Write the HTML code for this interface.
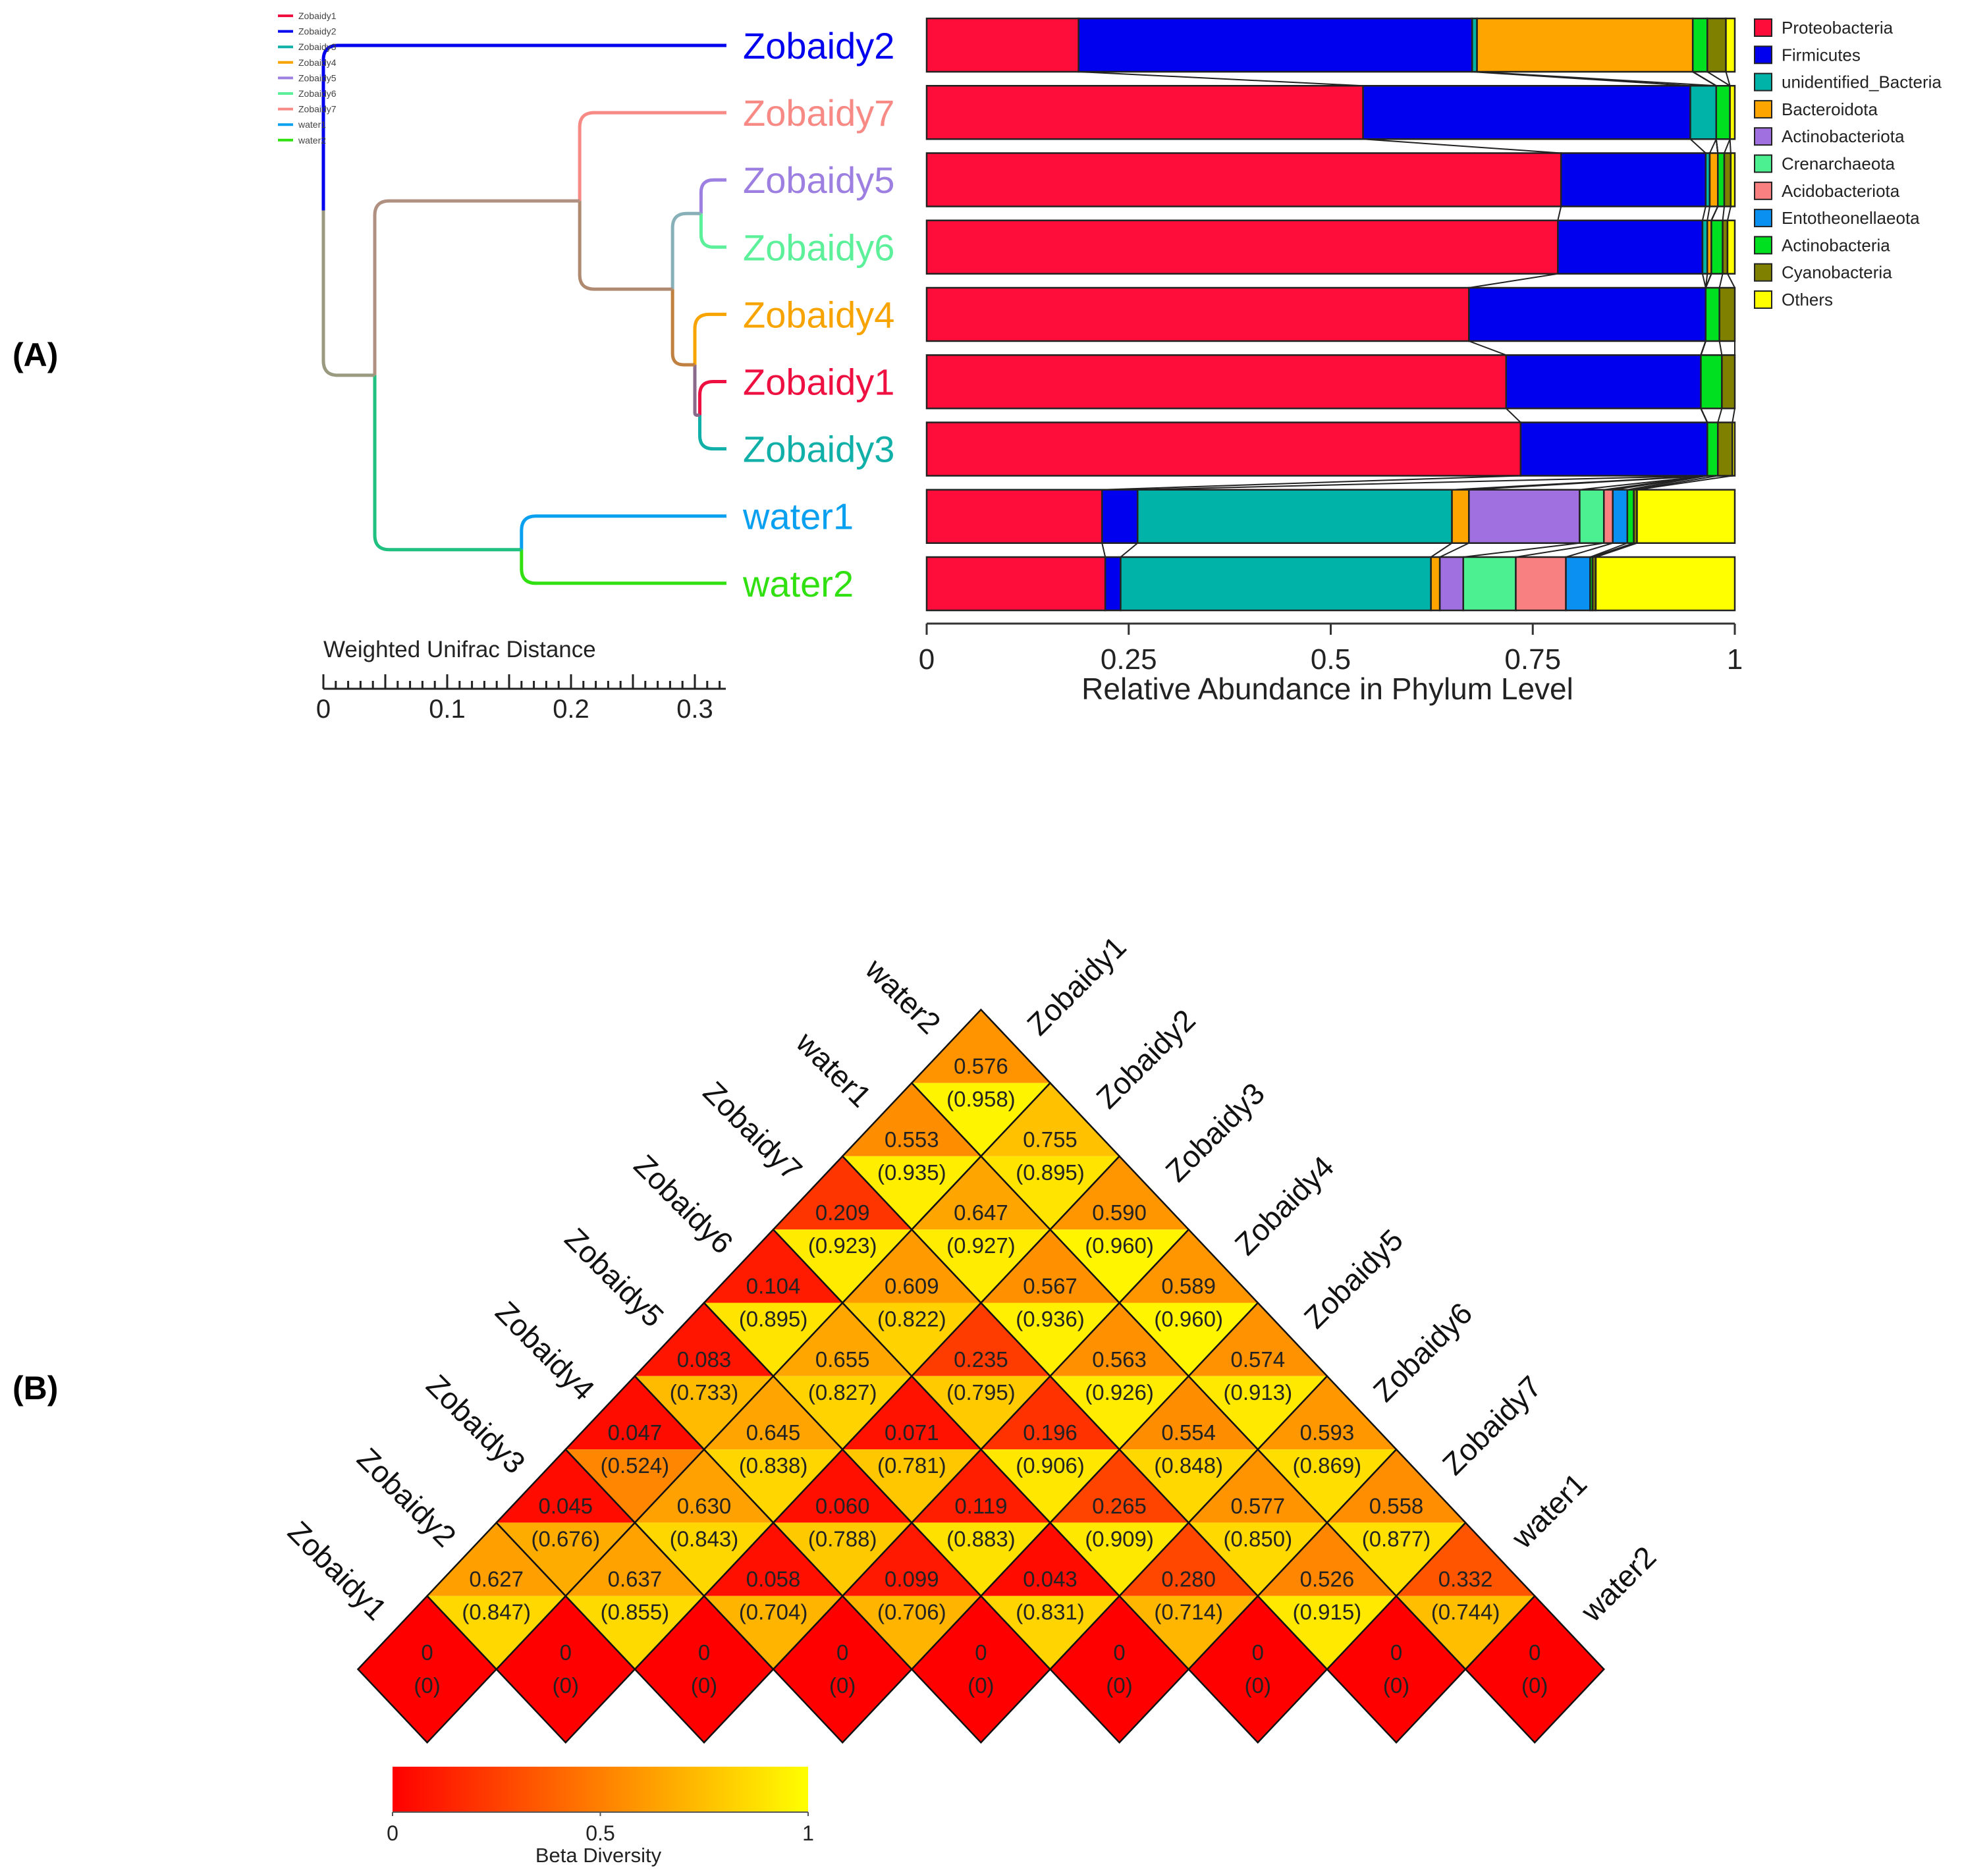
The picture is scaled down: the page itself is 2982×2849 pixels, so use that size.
<!DOCTYPE html>
<html><head><meta charset="utf-8">
<style>
html,body{margin:0;padding:0;background:#fff;}
svg{display:block;font-family:"Liberation Sans",Arial,sans-serif;}
</style></head>
<body>
<svg id="fig" width="2982" height="2849" viewBox="0 0 2982 2849" xmlns="http://www.w3.org/2000/svg">
<rect width="2982" height="2849" fill="#fff"/>
<text x="19" y="556" font-size="50" font-weight="bold">(A)</text>
<text x="19" y="2125" font-size="50" font-weight="bold">(B)</text>
<g id="dendro"></g>
<g id="bars"></g>
<g id="heat"></g>
</svg>
<script>
// ---------- Dendrogram data ----------
const leafNames = ["Zobaidy2","Zobaidy7","Zobaidy5","Zobaidy6","Zobaidy4","Zobaidy1","Zobaidy3","water1","water2"];
const leafColors = ["#0000ee","#f88a86","#9c7fe0","#5cf09a","#f8a400","#ee1040","#10b0a8","#0aa0f0","#30e010"];
const nodeNames = ["G","F","E","D","C","H","B","R"];
const nodeChildA = ["L5","L4","L2","N2","L1","L7","N4","L0"];
const nodeChildB = ["L6","N0","L3","N1","N3","L8","N5","N6"];
const nodeDist = [0.304,0.300,0.305,0.282,0.207,0.160,0.0415,0];
const nodeColors = ["#8a6a8a","#c08040","#88b0b8","#b08a70","#b09080","#20c080","#9a9a80","#9a9a80"];
const leafDist = 0.3255;
const distTicks = [0,0.1,0.2,0.3];

// ---------- Bar data ----------
const phyla = ["Proteobacteria","Firmicutes","unidentified_Bacteria","Bacteroidota","Actinobacteriota","Crenarchaeota","Acidobacteriota","Entotheonellaeota","Actinobacteria","Cyanobacteria","Others"];
const phylaColors = ["#ff0d3a","#0000ee","#00b3a8","#ffa500","#a070e0","#4cf090","#f88080","#0a90f0","#00e020","#808000","#ffff00"];
const barZobaidy2 = [0.188,0.487,0.006,0.267,0,0,0,0,0.018,0.023,0.011];
const barZobaidy7 = [0.540,0.405,0.032,0,0,0,0,0,0.017,0,0.006];
const barZobaidy5 = [0.785,0.179,0.005,0.010,0,0,0,0,0.008,0.008,0.005];
const barZobaidy6 = [0.781,0.179,0.006,0.005,0,0,0,0,0.014,0.006,0.009];
const barZobaidy4 = [0.671,0.293,0,0,0,0,0,0,0.017,0.019,0];
const barZobaidy1 = [0.717,0.241,0,0,0,0,0,0,0.026,0.016,0];
const barZobaidy3 = [0.735,0.231,0,0,0,0,0,0,0.013,0.018,0.003];
const barWater1 = [0.217,0.044,0.389,0.021,0.137,0.030,0.011,0.018,0.008,0.004,0.121];
const barWater2 = [0.221,0.019,0.384,0.011,0.029,0.065,0.062,0.030,0.003,0.004,0.172];
const barRows = [barZobaidy2,barZobaidy7,barZobaidy5,barZobaidy6,barZobaidy4,barZobaidy1,barZobaidy3,barWater1,barWater2];
const barTicks = [0,0.25,0.5,0.75,1];
const barTickLabels = ["0","0.25","0.5","0.75","1"];

// ---------- Heatmap data ----------
const heatSamples = ["Zobaidy1","Zobaidy2","Zobaidy3","Zobaidy4","Zobaidy5","Zobaidy6","Zobaidy7","water1","water2"];
const heatRow1 = [[0.627,0.847],[0.637,0.855],[0.058,0.704],[0.099,0.706],[0.043,0.831],[0.280,0.714],[0.526,0.915],[0.332,0.744]];
const heatRow2 = [[0.045,0.676],[0.630,0.843],[0.060,0.788],[0.119,0.883],[0.265,0.909],[0.577,0.850],[0.558,0.877]];
const heatRow3 = [[0.047,0.524],[0.645,0.838],[0.071,0.781],[0.196,0.906],[0.554,0.848],[0.593,0.869]];
const heatRow4 = [[0.083,0.733],[0.655,0.827],[0.235,0.795],[0.563,0.926],[0.574,0.913]];
const heatRow5 = [[0.104,0.895],[0.609,0.822],[0.567,0.936],[0.589,0.960]];
const heatRow6 = [[0.209,0.923],[0.647,0.927],[0.590,0.960]];
const heatRow7 = [[0.553,0.935],[0.755,0.895]];
const heatRow8 = [[0.576,0.958]];
const heatRows = [null,heatRow1,heatRow2,heatRow3,heatRow4,heatRow5,heatRow6,heatRow7,heatRow8];
const scaleTicks = [0,0.5,1];
const scaleTickLabels = ["0","0.5","1"];

const NS="http://www.w3.org/2000/svg";
function mk(tag,attrs,parent){const e=document.createElementNS(NS,tag);for(const k in attrs)e.setAttribute(k,attrs[k]);parent.appendChild(e);return e;}
function fmt(v){return v===0?"0":v.toFixed(3);}

// ===== Dendrogram =====
try{(function(){
  const g=document.getElementById('dendro');
  const dx=d=>491+d*1880;
  const leafY=i=>69+i*102.1;
  const pos={};
  leafNames.forEach((n,i)=>{pos["L"+i]={x:dx(leafDist),y:leafY(i),c:leafColors[i]};});
  nodeNames.forEach((n,k)=>{
    const a=pos[nodeChildA[k]], b=pos[nodeChildB[k]];
    pos["N"+k]={x:dx(nodeDist[k]),y:(a.y+b.y)/2,c:nodeColors[k]};
  });
  nodeNames.forEach((n,k)=>{
    const p=pos["N"+k];
    [nodeChildA[k],nodeChildB[k]].forEach(ck=>{
      const c=pos[ck];
      const r=Math.max(0,Math.min(22,Math.abs(c.y-p.y)/2,(c.x-p.x)/2));
      const s=c.y<p.y?-1:1;
      const d=`M${p.x},${p.y} L${p.x},${c.y-s*r} Q${p.x},${c.y} ${p.x+r},${c.y} L${c.x},${c.y}`;
      const e=mk('path',{d:d,fill:'none',stroke:c.c,'stroke-width':5},g);
      
      
    });
  });
  leafNames.forEach((n,i)=>{
    const t=mk('text',{x:1128,y:leafY(i)+20,'font-size':56,fill:leafColors[i]},g);
    t.textContent=n;
    
    
  });
  leafNames.slice().sort().forEach((n,i)=>{
    const idx=leafNames.indexOf(n);
    const y=24+i*23.6;
    const l=mk('line',{x1:422,x2:445,y1:y,y2:y,stroke:leafColors[idx],'stroke-width':4},g);
    
    
    const t=mk('text',{x:453,y:y+5,'font-size':14,fill:'#444'},g);
    t.textContent=n;
    
    
  });
  const tt=mk('text',{x:491,y:998,'font-size':35,fill:'#222'},g);
  tt.textContent="Weighted Unifrac Distance";
  
  
  mk('line',{x1:dx(0),x2:dx(0.325),y1:1046,y2:1046,stroke:'#222','stroke-width':3},g);
  for(let k=0;k<=32;k++){
    const x=dx(k*0.01);const len=(k%5===0)?22:12;
    mk('line',{x1:x,x2:x,y1:1046,y2:1046-len,stroke:'#222','stroke-width':3},g);
  }
  distTicks.forEach(v=>{
    const t=mk('text',{x:dx(v),y:1090,'font-size':40,'text-anchor':'middle',fill:'#222'},g);
    t.textContent=String(v);
    
    
  });
})();}catch(e){console.error(e);}

// ===== Stacked bars =====
try{(function(){
  const g=document.getElementById('bars');
  const bx=v=>1407+v*1227;
  const top=i=>28+i*102.25;
  const H=81;
  const cums=barRows.map(r=>{let c=0;return r.map(v=>(c+=v));});
  for(let i=0;i<barRows.length-1;i++){
    for(let k=0;k<phyla.length-1;k++){
      const l=mk('line',{x1:bx(cums[i][k]),y1:top(i)+H,x2:bx(cums[i+1][k]),y2:top(i+1),stroke:'#222','stroke-width':2},g);
      
      
    }
  }
  barRows.forEach((row,i)=>{
    let c=0;
    row.forEach((v,k)=>{
      if(v<=0){return;}
      const r=mk('rect',{x:bx(c),y:top(i),width:bx(c+v)-bx(c),height:H,fill:phylaColors[k],stroke:'#222','stroke-width':2.5},g);
      
      
      c+=v;
    });
  });
  mk('line',{x1:bx(0),x2:bx(1),y1:947,y2:947,stroke:'#333','stroke-width':3},g);
  barTicks.forEach((v,k)=>{
    mk('line',{x1:bx(v),x2:bx(v),y1:947,y2:964,stroke:'#333','stroke-width':3},g);
    const t=mk('text',{x:bx(v),y:1016,'font-size':44,'text-anchor':'middle',fill:'#222'},g);
    t.textContent=barTickLabels[k];
    
    
  });
  const tt=mk('text',{x:bx(0.5)-5,y:1062,'font-size':46,'text-anchor':'middle',fill:'#222'},g);
  tt.textContent="Relative Abundance in Phylum Level";
  
  
  phyla.forEach((p,k)=>{
    const y=42+k*41.3;
    const r=mk('rect',{x:2664,y:y-13,width:26,height:26,fill:phylaColors[k],stroke:'#222','stroke-width':2},g);
    
    
    const t=mk('text',{x:2705,y:y+9,'font-size':26,fill:'#222'},g);
    t.textContent=p;
    
    
  });
})();}catch(e){console.error(e);}

// ===== Heatmap =====
try{(function(){
  const g=document.getElementById('heat');
  const W=105.1, Hh=111.3;
  const cxk=k=>648.6+k*210.2;
  const cyd=d=>2535-d*Hh;
  const col=v=>{const gg=Math.round(Math.max(0,Math.min(1,v))*255);return `rgb(255,${gg},0)`;};
  for(let d=0;d<9;d++){
    for(let i=0;i<9-d;i++){
      const pair=d===0?[0,0]:heatRows[d][i];
      const cx=cxk(i+d/2), cy=cyd(d);
      const up=mk('polygon',{points:`${cx-W},${cy} ${cx},${cy-Hh} ${cx+W},${cy}`,fill:col(pair[0])},g);
      
      
      const lo=mk('polygon',{points:`${cx-W},${cy} ${cx+W},${cy} ${cx},${cy+Hh}`,fill:col(pair[1])},g);
      
      
      const o=mk('polygon',{points:`${cx-W},${cy} ${cx},${cy-Hh} ${cx+W},${cy} ${cx},${cy+Hh}`,fill:'none',stroke:'#111','stroke-width':2.5},g);
      
      
      const t1=mk('text',{x:cx,y:cy-14,'font-size':33,'text-anchor':'middle',fill:'#222'},g);
      t1.textContent=fmt(pair[0]);
      
      
      const t2=mk('text',{x:cx,y:cy+36,'font-size':33,'text-anchor':'middle',fill:'#222'},g);
      t2.textContent="("+fmt(pair[1])+")";
      
      
    }
  }
  heatSamples.forEach((n,j)=>{
    const cx=cxk(j/2), cy=cyd(j);
    const px=cx-W/2-28, py=cy-Hh/2-16;
    const t=mk('text',{x:px,y:py,'font-size':46,'text-anchor':'end',fill:'#111',transform:`rotate(45 ${px} ${py})`},g);
    t.textContent=n;
    
    
  });
  heatSamples.forEach((n,i)=>{
    const d=8-i;
    const cx=cxk(i+d/2), cy=cyd(d);
    const px=cx+W/2+37, py=cy-Hh/2-14;
    const t=mk('text',{x:px,y:py,'font-size':46,'text-anchor':'start',fill:'#111',transform:`rotate(-45 ${px} ${py})`},g);
    t.textContent=n;
    
    
  });
  const defs=mk('defs',{},g);
  const lg=mk('linearGradient',{id:'heatgrad',x1:0,x2:1,y1:0,y2:0},defs);
  mk('stop',{offset:'0','stop-color':'#ff0000'},lg);
  mk('stop',{offset:'1','stop-color':'#ffff00'},lg);
  const sx=v=>596+v*631;
  const cb=mk('rect',{x:sx(0),y:2683,width:631,height:69,fill:'url(#heatgrad)'},g);
  
  
  mk('line',{x1:sx(0),x2:sx(1),y1:2752,y2:2752,stroke:'#555','stroke-width':2},g);
  scaleTicks.forEach((v,k)=>{
    mk('line',{x1:sx(v),x2:sx(v),y1:2752,y2:2758,stroke:'#555','stroke-width':2},g);
    const t=mk('text',{x:sx(v),y:2795,'font-size':32,'text-anchor':'middle',fill:'#222'},g);
    t.textContent=scaleTickLabels[k];
    
    
  });
  const bt=mk('text',{x:sx(0.5)-3,y:2828,'font-size':31,'text-anchor':'middle',fill:'#222'},g);
  bt.textContent="Beta Diversity";
  
  
})();}catch(e){console.error(e);}
</script>
</body></html>
